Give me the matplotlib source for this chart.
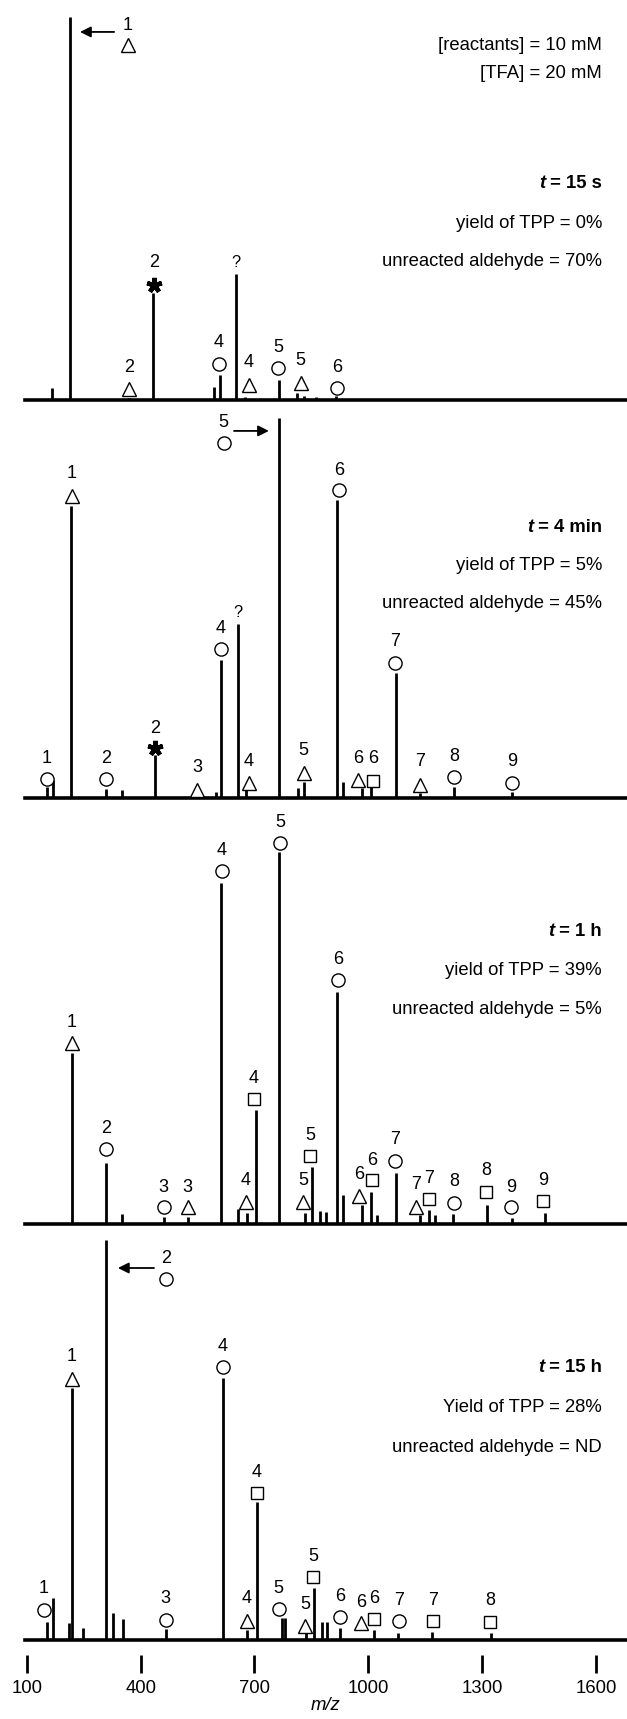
import matplotlib
matplotlib.use('Agg')
import matplotlib.pyplot as plt

plt.rcParams['font.family'] = ['Liberation Sans', 'DejaVu Sans']

# ---------------- data: stick spectra (m/z, % of base peak) ----------------
mz_15s = [166, 214, 369, 433, 593, 609, 651, 674, 764, 812, 830, 862, 915]
int_15s = [3.1, 100, 0.6, 28, 3.4, 6.5, 33, 0.8, 5.2, 1.8, 1.0, 0.7, 1.0]

mz_4min = [153, 169, 217, 308, 350, 438, 549, 598, 612, 656, 677, 765, 814,
           830, 918, 933, 983, 1007, 1073, 1136, 1226, 1379]
int_4min = [2.9, 4.7, 76.8, 2.4, 2.1, 11.3, 1.0, 1.6, 36.3, 45.8, 2.1, 100, 2.6,
            4.2, 78.4, 4.2, 2.6, 2.9, 32.9, 1.3, 2.9, 1.6]

mz_1h = [219, 308, 350, 461, 524, 612, 656, 680, 704, 765, 833, 851, 872, 888,
         917, 933, 983, 1007, 1023, 1073, 1136, 1160, 1176, 1223, 1313, 1379, 1466]
int_1h = [46.0, 16.4, 2.7, 1.9, 1.9, 91.7, 4.0, 3.0, 30.6, 100, 3.0, 15.3, 3.5, 3.2,
          62.4, 7.8, 5.1, 8.6, 2.4, 13.7, 2.4, 3.8, 2.4, 2.7, 5.1, 1.6, 3.0]

mz_15h = [153, 169, 210, 219, 248, 308, 326, 353, 466, 616, 680, 706, 772, 780,
          836, 857, 878, 891, 925, 1015, 1078, 1168, 1324]
int_15h = [4.5, 10.5, 4.2, 63, 3.0, 100, 6.8, 5.2, 2.8, 65.5, 2.5, 34.5, 5.5, 5.5,
           2.0, 13, 4.5, 4.5, 3.0, 2.5, 1.8, 2.0, 1.8]

# peak labels: (m/z, y of number, number, y of symbol, symbol)
labels_15s = [(366, 97.9, '1', 92.7, '^'), (435, 35.8, '2', 30.0, '*'),
              (651, 36.0, '?', None, None), (369, 8.4, '2', 2.9, '^'),
              (606, 14.9, '4', 9.4, 'o'), (685, 9.7, '4', 3.9, '^'),
              (762, 13.6, '5', 8.4, 'o'), (822, 10.2, '5', 4.4, '^'),
              (917, 8.4, '6', 3.1, 'o')]
labels_4min = [(619, 98.7, '5', 93.4, 'o'), (219, 85.3, '1', 79.5, '^'),
               (923, 86.3, '6', 81.1, 'o'), (656, 48.7, '?', None, None),
               (612, 44.5, '4', 39.2, 'o'), (1070, 41.1, '7', 35.5, 'o'),
               (438, 18.4, '2', 13.2, '*'), (153, 10.3, '1', 5.0, 'o'),
               (308, 10.3, '2', 5.0, 'o'), (549, 7.9, '3', 2.1, '^'),
               (685, 9.5, '4', 3.9, '^'), (830, 12.6, '5', 6.6, '^'),
               (973, 10.3, '6', 4.7, '^'), (1012, 10.3, '6', 4.5, 's'),
               (1136, 9.5, '7', 3.4, '^'), (1226, 10.8, '8', 5.5, 'o'),
               (1379, 9.5, '9', 3.9, 'o')]
labels_1h = [(767, 107.8, '5', 102.4, 'o'), (614, 100.3, '4', 94.9, 'o'),
             (920, 71.0, '6', 65.6, 'o'), (219, 54.3, '1', 48.7, '^'),
             (698, 39.2, '4', 33.6, 's'), (308, 25.8, '2', 20.2, 'o'),
             (846, 23.9, '5', 18.3, 's'), (1070, 22.6, '7', 16.9, 'o'),
             (1010, 17.2, '6', 11.8, 's'), (975, 13.2, '6', 7.5, '^'),
             (461, 9.9, '3', 4.6, 'o'), (524, 9.9, '3', 4.6, '^'),
             (677, 11.8, '4', 5.9, '^'), (828, 11.8, '5', 5.9, '^'),
             (1126, 10.5, '7', 4.6, '^'), (1160, 12.1, '7', 6.7, 's'),
             (1226, 11.3, '8', 5.6, 'o'), (1310, 14.5, '8', 8.6, 's'),
             (1376, 9.9, '9', 4.6, 'o'), (1460, 11.8, '9', 6.2, 's')]
labels_15h = [(466, 95.5, '2', 90.2, 'o'), (219, 70.8, '1', 65.2, '^'),
              (616, 73.3, '4', 68.3, 'o'), (706, 42.0, '4', 36.8, 's'),
              (854, 20.8, '5', 15.8, 's'), (145, 12.8, '1', 7.5, 'o'),
              (466, 10.3, '3', 5.0, 'o'), (680, 10.3, '4', 4.8, '^'),
              (764, 13.0, '5', 7.8, 'o'), (833, 9.0, '5', 3.5, '^'),
              (925, 10.8, '6', 5.8, 'o'), (981, 9.5, '6', 4.2, '^'),
              (1015, 10.5, '6', 5.3, 's'), (1081, 10.0, '7', 4.8, 'o'),
              (1170, 10.0, '7', 4.8, 's'), (1321, 10.0, '8', 4.5, 's')]

# arrows pointing at off-scale base peaks: (panel, tail m/z, head m/z, y)
arrows = [(0, 330, 240, 96.1), (1, 646, 738, 96.6), (3, 435, 340, 93.0)]

times = ['= 15 s', '= 4 min', '= 1 h', '= 15 h']
yields = ['yield of TPP = 0%', 'yield of TPP = 5%', 'yield of TPP = 39%', 'Yield of TPP = 28%']
aldehyde = ['unreacted aldehyde = 70%', 'unreacted aldehyde = 45%',
            'unreacted aldehyde = 5%', 'unreacted aldehyde = ND']
conditions = ['[reactants] = 10 mM', '[TFA] = 20 mM']
xticks = [100, 400, 700, 1000, 1300, 1600]

# ---------------- layout (pixels) ----------------
W, H = 627, 1719
fig = plt.figure(figsize=(W / 100, H / 100), dpi=100)

spectra = [(mz_15s, int_15s, labels_15s), (mz_4min, int_4min, labels_4min),
           (mz_1h, int_1h, labels_1h), (mz_15h, int_15h, labels_15h)]
baselines = [400, 798, 1224, 1640]
tops = [0, 400, 798, 1224]
base_px = [383, 380, 372, 400]   # pixel height of the 100 % peak
text_y = [(184, 223, 262), (527, 566, 604), (931, 970, 1009), (1368, 1408, 1447)]

left_px = 25
FS = 13.3
axes = []
for i, (mz, inten, labs) in enumerate(spectra):
    h = baselines[i] - tops[i]
    ax = fig.add_axes([left_px / W, 1 - baselines[i] / H, (W - left_px) / W, h / H])
    ax.set_xlim(95, 1682)
    ax.set_ylim(0, 100 * h / base_px[i])
    ax.axhline(0, color='k', lw=2.6, clip_on=False)
    ax.vlines(mz, 0, inten, color='k', lw=2.0)
    for x, yn, num, ys, sym in labs:
        ax.text(x, yn, num, ha='center', va='center',
                fontsize=FS - (1.5 if num == '?' else 0.3))
        if sym == '*':
            ax.plot(x, ys, marker=(5, 2, 0), ms=11, color='k', mew=3.2)
        elif sym is not None:
            ax.plot(x, ys, marker=sym, ms=9.5 if sym != 's' else 9,
                    mfc='white', mec='k', mew=1.0)
    for spine in ax.spines.values():
        spine.set_visible(False)
    ax.set_yticks([])
    ax.set_xticks([])
    ax.patch.set_alpha(0)
    axes.append(ax)

for p, tail, head, y in arrows:
    axes[p].annotate('', xy=(head, y), xytext=(tail, y),
                     arrowprops=dict(arrowstyle='-|>', color='k', lw=1.3,
                                     mutation_scale=16, shrinkA=0, shrinkB=0))

# bottom m/z axis
ax = axes[-1]
ax.spines['bottom'].set_visible(True)
ax.spines['bottom'].set_color('none')
ax.spines['bottom'].set_position(('outward', 10.8))
ax.set_xticks(xticks)
ax.set_xticklabels([str(t) for t in xticks], fontsize=FS)
ax.tick_params(axis='x', direction='out', length=13, width=2.0, pad=5)
ax.set_xlabel('m/z', fontstyle='italic', fontsize=FS, labelpad=0)

# right-hand annotations
xr = 602 / W
fig.text(xr, 1 - 45 / H, conditions[0], ha='right', va='center', fontsize=FS)
fig.text(xr, 1 - 73 / H, conditions[1], ha='right', va='center', fontsize=FS)

renderer = fig.canvas.get_renderer()
for i in range(4):
    yt, yy, ya = text_y[i]
    tt = fig.text(xr, 1 - yt / H, ' ' + times[i], ha='right', va='center',
                  fontsize=FS, fontweight='bold')
    bb = tt.get_window_extent(renderer)
    fig.text(bb.x0 / W, 1 - yt / H, 't', ha='right', va='center', fontsize=FS,
             fontweight='bold', fontstyle='italic')
    fig.text(xr, 1 - yy / H, yields[i], ha='right', va='center', fontsize=FS)
    fig.text(xr, 1 - ya / H, aldehyde[i], ha='right', va='center', fontsize=FS)

fig.savefig('out.png', dpi=100)
